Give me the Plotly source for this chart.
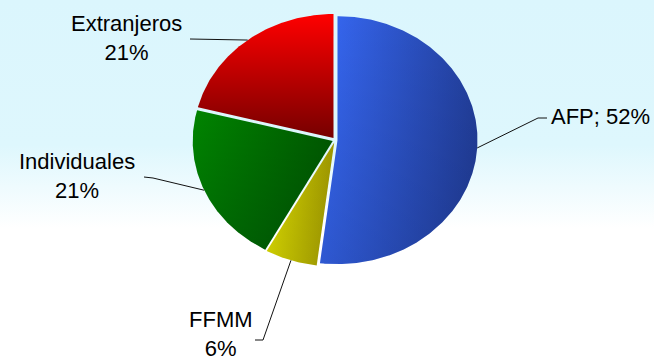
import numpy as np
import plotly.graph_objects as go

# Ownership shares by holder type (percent)
categories = ["AFP", "FFMM", "Individuales", "Extranjeros"]
shares = [52, 6, 21, 21]
label_texts = ["AFP; 52%", "FFMM<br>6%", "Individuales<br>21%", "Extranjeros<br>21%"]

# Canvas in pixel units
W, H = 654, 363
CX, CY = 335, 140          # pie centre
RX, RY = 140, 124          # tilted pie -> ellipse radii
EXPLODE = 2.5              # small offset that separates the slices

# Slice fills: main gradient direction + a darkening overlay towards the bottom
slice_styles = {
    "AFP": dict(kind="horizontal", scale=[[0, "#3769f6"], [1, "#223f9c"]], shade=0.16),
    "FFMM": dict(kind="horizontal", scale=[[0, "#d8d800"], [1, "#9d9600"]], shade=0.06),
    "Individuales": dict(kind="horizontal", scale=[[0, "#008400"], [1, "#005a00"]], shade=0.18),
    "Extranjeros": dict(kind="vertical", scale=[[0, "#ff0000"], [1, "#760000"]], shade=0.0),
}

# Label placement: text anchor, and the two leader points next to the text
label_pos = {
    "AFP": dict(x=550, y=116, xanchor="left", elbow=(538, 118), end=(547, 118)),
    "FFMM": dict(x=221, y=334, xanchor="center", elbow=(263, 340), end=(255, 340)),
    "Individuales": dict(x=77, y=176, xanchor="center", elbow=(153, 178), end=(144, 177)),
    "Extranjeros": dict(x=126, y=38, xanchor="center", elbow=(199, 39), end=(190, 39)),
}


def gradient(kind, scale, xs, ys):
    """Gradient spec running from the slice's left/top edge to its right/bottom edge."""
    if kind == "horizontal":
        lo, hi = float(np.min(xs)), float(np.max(xs))
    else:
        lo, hi = float(np.min(ys)), float(np.max(ys))
    return dict(type=kind, start=lo, stop=hi, colorscale=scale)


fig = go.Figure()

# Background wash: pale cyan at the top fading to white
fig.add_trace(go.Scatter(
    x=[0, W, W, 0, 0], y=[0, 0, H, H, 0], mode="lines", fill="toself",
    line=dict(width=0), hoverinfo="skip",
    fillgradient=dict(type="vertical", start=0, stop=H,
                      colorscale=[[0, "#dbf6fd"], [0.40, "#def7fd"],
                                  [0.63, "#ffffff"], [1, "#ffffff"]]),
))

total = float(sum(shares))
start_angle = 0.0  # clockwise from 12 o'clock
annotations = []
for cat, val, txt in zip(categories, shares, label_texts):
    sweep = 360.0 * val / total
    a0, a1 = start_angle, start_angle + sweep
    mid = np.radians((a0 + a1) / 2)
    sx, sy = EXPLODE * np.sin(mid), -EXPLODE * np.cos(mid)
    ox, oy = CX + sx, CY + sy
    th = np.radians(np.linspace(a0, a1, max(int(sweep * 2), 8)))
    xs = np.concatenate([[ox], ox + RX * np.sin(th), [ox]])
    ys = np.concatenate([[oy], oy - RY * np.cos(th), [oy]])
    st = slice_styles[cat]
    fig.add_trace(go.Scatter(
        x=xs, y=ys, mode="lines", fill="toself", line=dict(width=0),
        fillgradient=gradient(st["kind"], st["scale"], xs, ys),
        name=cat, hoverinfo="name",
    ))
    if st["shade"] > 0:
        fig.add_trace(go.Scatter(
            x=xs, y=ys, mode="lines", fill="toself", line=dict(width=0),
            fillgradient=gradient("vertical",
                                  [[0, "rgba(0,0,20,0)"],
                                   [1, f"rgba(0,0,20,{st['shade']})"]], xs, ys),
            hoverinfo="skip",
        ))

    # Leader line from the slice rim to its label
    lp = label_pos[cat]
    px, py = ox + RX * np.sin(mid), oy - RY * np.cos(mid)
    fig.add_trace(go.Scatter(
        x=[px, lp["elbow"][0], lp["end"][0]], y=[py, lp["elbow"][1], lp["end"][1]],
        mode="lines", line=dict(color="#111111", width=1), hoverinfo="skip",
    ))
    annotations.append(dict(
        x=lp["x"], y=lp["y"], xref="x", yref="y", text=txt, showarrow=False,
        xanchor=lp["xanchor"], yanchor="middle", align="center", borderpad=0,
        font=dict(family="Liberation Sans, Arial, sans-serif", size=22, color="#000000"),
    ))
    start_angle = a1

fig.update_layout(
    width=W, height=H, autosize=False,
    margin=dict(l=0, r=0, t=0, b=0),
    paper_bgcolor="#ffffff", plot_bgcolor="#ffffff",
    showlegend=False, annotations=annotations,
    xaxis=dict(range=[0, W], visible=False, fixedrange=True),
    yaxis=dict(range=[H, 0], visible=False, fixedrange=True),
)

fig.write_html("out.html")
